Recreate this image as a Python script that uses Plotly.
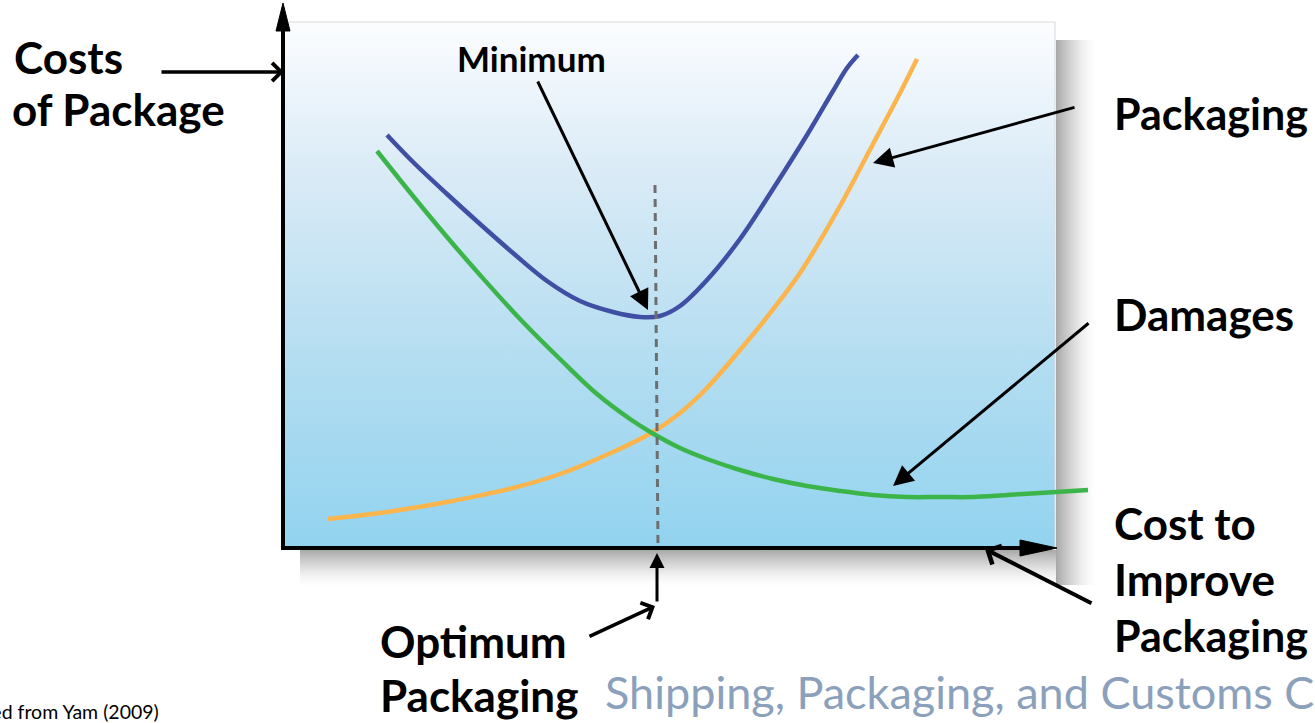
import plotly.graph_objects as go

# ---------------- data (chart units: x = cost to improve packaging, y = cost) -------------
total_x = [104, 130, 164, 197, 230, 264, 297, 330, 357, 377, 397, 424, 457, 490, 524, 550, 564, 575]
total_y = [413, 386, 354, 324, 295, 267, 247, 236, 231, 232, 242, 268, 309, 359, 413, 457, 480, 493]

packaging_x = [45, 97, 164, 230, 277, 330, 370, 397, 424, 457, 484, 517, 557, 590, 617, 634]
packaging_y = [29, 35, 46, 60, 74, 96, 116, 135, 160, 198, 231, 275, 342, 404, 455, 489]

damages_x = [94, 130, 164, 197, 237, 280, 314, 347, 369, 397, 424, 457, 490, 524, 557, 590,
             624, 657, 690, 724, 757, 805]
damages_y = [397, 352, 311, 273, 229, 186, 154, 129, 115, 100, 89, 78, 69, 62, 57, 53,
             51, 51, 51, 53, 55, 58]

optimum_x = [372, 375]
optimum_y = [363, 0]

# ---------------- page geometry ----------------
W, H = 1315, 723
X0, Y0 = 283, 548           # pixel of the axes origin


def P(px, py):
    """pixel position -> axis coordinates"""
    return px - X0, Y0 - py


BLUE = "#3f4fa3"
ORANGE = "#fbb54c"
GREEN = "#3bb54a"
FONT = "Lato"

fig = go.Figure()

# background panel with vertical gradient
bx0, by0 = P(283, 22)
bx1, by1 = P(1055, 548)
fig.add_trace(go.Scatter(
    x=[bx0, bx1, bx1, bx0, bx0], y=[by0, by0, by1, by1, by0],
    mode="lines", fill="toself", line=dict(width=1, color="rgba(218,218,218,1)"),
    fillgradient=dict(type="vertical", start=by1, stop=by0,
                      colorscale=[[0, "#92d3ef"], [0.35, "#b3ddf1"], [0.7, "#d8eaf6"], [1, "#fcfdff"]]),
    hoverinfo="skip", showlegend=False))

# right shadow
sx0, sy0 = P(1056, 40)
sx1, sy1 = P(1100, 585)
fig.add_trace(go.Scatter(
    x=[sx0, sx1, sx1, sx0, sx0], y=[sy0, sy0, sy1, sy1, sy0],
    mode="lines", fill="toself", line=dict(width=0),
    fillgradient=dict(type="horizontal", start=sx0, stop=sx1,
                      colorscale=[[0, "rgba(120,120,120,0.65)"], [0.45, "rgba(150,150,150,0.3)"],
                                  [1, "rgba(255,255,255,0)"]]),
    hoverinfo="skip", showlegend=False))
# bottom shadow
tx0, ty0 = P(300, 550)
tx1, ty1 = P(1056, 590)
fig.add_trace(go.Scatter(
    x=[tx0, tx1, tx1, tx0, tx0], y=[ty0, ty0, ty1, ty1, ty0],
    mode="lines", fill="toself", line=dict(width=0),
    fillgradient=dict(type="vertical", start=ty1, stop=ty0,
                      colorscale=[[0, "rgba(255,255,255,0)"], [0.55, "rgba(150,150,150,0.3)"],
                                  [1, "rgba(120,120,120,0.65)"]]),
    hoverinfo="skip", showlegend=False))

# curves
for xs, ys, col in [(packaging_x, packaging_y, ORANGE),
                    (damages_x, damages_y, GREEN),
                    (total_x, total_y, BLUE)]:
    fig.add_trace(go.Scatter(x=xs, y=ys, mode="lines",
                             line=dict(color=col, width=4.5, shape="spline", smoothing=1.0),
                             hoverinfo="skip", showlegend=False))

# optimum dashed line
fig.add_trace(go.Scatter(x=optimum_x, y=optimum_y, mode="lines",
                         line=dict(color="#6e6e6e", width=3, dash="8px,6px"),
                         hoverinfo="skip", showlegend=False))

shapes = []
# axes
ax0 = P(283, 550); ax1 = P(283, 26)
shapes.append(dict(type="line", x0=ax0[0], y0=ax0[1], x1=ax1[0], y1=ax1[1],
                   line=dict(color="black", width=4)))
ax0 = P(281, 548); ax1 = P(1025, 548)
shapes.append(dict(type="line", x0=ax0[0], y0=ax0[1], x1=ax1[0], y1=ax1[1],
                   line=dict(color="black", width=4)))


def tri(pts):
    d = "M " + " L ".join(f"{P(a, b)[0]},{P(a, b)[1]}" for a, b in pts) + " Z"
    return dict(type="path", path=d, fillcolor="black", line=dict(color="black", width=1))


shapes.append(tri([(283, 3), (276, 31), (290, 31)]))
shapes.append(tri([(1057, 548), (1020, 540), (1020, 556)]))

# annotations
ann = []


def arrow(tail, head, style, width=3, size=1.0):
    hx, hy = P(*head)
    tx_, ty_ = P(*tail)
    ann.append(dict(x=hx, y=hy, ax=tx_, ay=ty_, xref="x", yref="y", axref="x", ayref="y",
                    text="", showarrow=True, arrowhead=style, arrowwidth=width,
                    arrowsize=size, arrowcolor="black", standoff=0, startstandoff=0))


arrow((537, 80), (648, 310), 2, 3, 1.35)       # Minimum
arrow((1076, 107), (873, 163), 2, 3, 1.35)     # Packaging
arrow((1090, 322), (893, 486), 2, 3, 1.35)     # Damages
arrow((160, 72), (284, 72), 4, 3.5, 1.0)       # Costs of Package
arrow((588, 637), (655, 606), 4, 3.5, 1.0)     # Optimum
arrow((1093, 604), (985, 549), 4, 4, 1.0)      # Cost to improve
arrow((657, 603), (657, 553), 2, 3, 1.0)       # upward optimum marker


def label(xl, capc, s, size, color="black", weight="bold", anchor="left"):
    """xl: left edge, capc: vertical centre of the capital letters (px)"""
    x, y = P(xl, capc - 0.06 * size)
    ann.append(dict(x=x, y=y, xref="x", yref="y", text=s, showarrow=False,
                    xanchor=anchor, yanchor="middle",
                    font=dict(family=FONT, size=size, color=color, weight=weight)))


BIG = 44
label(12, 60, "Costs", BIG)
label(10, 112, "of Package", BIG)
label(455, 60, "Minimum", 35)
label(1112, 116, "Packaging", 43)
label(1112, 317, "Damages", BIG)
label(1112, 526, "Cost to", BIG)
label(1112, 582, "Improve", BIG)
label(1112, 638, "Packaging", 43)
label(378, 644, "Optimum", BIG)
label(378, 698, "Packaging", BIG)
label(603, 695, "Shipping, Packaging, and Customs Compliance", 45, color="#8ba0bb", weight="normal")
label(161, 713, "Adapted from Yam (2009)", 19.5, weight="normal", anchor="right")

fig.update_layout(
    width=W, height=H, autosize=False,
    margin=dict(l=0, r=0, t=0, b=0, pad=0),
    paper_bgcolor="white", plot_bgcolor="white",
    xaxis=dict(range=[-X0, W - X0], visible=False, fixedrange=True),
    yaxis=dict(range=[Y0 - H, Y0], visible=False, fixedrange=True),
    shapes=shapes, annotations=ann, hovermode=False, showlegend=False,
)

fig.write_html("out.html", config={"displayModeBar": False},
               post_script="document.body.style.margin='0px';document.body.style.overflow='hidden';")
